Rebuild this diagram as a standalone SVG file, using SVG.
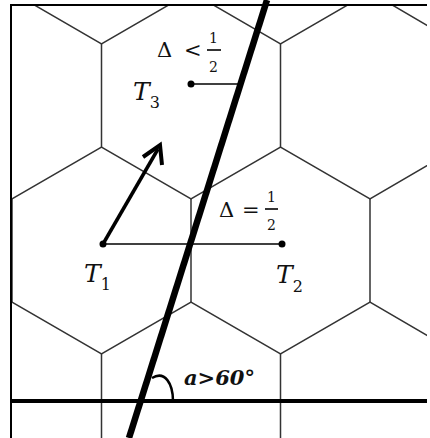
<svg xmlns="http://www.w3.org/2000/svg" width="430" height="438" viewBox="0 0 430 438">
<defs>
<style>
.hex{stroke:#333;stroke-width:1.5;fill:none}
.thin{stroke:#000;stroke-width:1.6;fill:none}
.mi{font-family:"DejaVu Serif",serif;font-style:italic;font-size:25px;fill:#111}
.sub{font-style:normal;font-size:16px}
.op{font-family:"DejaVu Serif",serif;font-size:21px;fill:#111}
.fr{font-family:"DejaVu Serif",serif;font-size:14px;fill:#111}
.ang{font-family:"DejaVu Serif",serif;font-style:italic;font-weight:bold;font-size:21px;fill:#111}
</style>
<clipPath id="frame"><rect x="11" y="5" width="416" height="433"/></clipPath>
</defs>
<rect width="430" height="438" fill="#fff"/>
<g id="grid" clip-path="url(#frame)" class="hex">
<path d="M101.5,44V147M280.5,44V147M12,199V302M191,199V302M370,199V302M101.5,354V457M280.5,354V457"/>
<path d="M12,-8L101.5,44L191,-8L280.5,44L370,-8L459,44"/>
<path d="M-77,147L12,199L101.5,147L191,199L280.5,147L370,199L459,147"/>
<path d="M-77,354L12,302L101.5,354L191,302L280.5,354L370,302L459,354"/>
</g>
<g id="frame-lines" fill="none" stroke="#000">
<path d="M11,438V5H427" stroke-width="2"/>
<path d="M12,401H427" stroke-width="4"/>
</g>
<g id="connectors">
<path class="thin" d="M103,244H282"/>
<path class="thin" d="M191,84H240"/>
<path d="M103,244L158,149" stroke="#000" stroke-width="3.5" fill="none"/>
<path d="M143,157L160,145L162,165" stroke="#000" stroke-width="4" fill="none" stroke-linejoin="miter"/>
<path d="M267,0L129,438" stroke="#000" stroke-width="6.5" fill="none"/>
<path d="M152,378C165,370 173,384 173,401" stroke="#000" stroke-width="2.5" fill="none"/>
</g>
<g id="T1">
<circle cx="103" cy="244" r="3.5"/>
<text class="mi" x="84" y="282">T<tspan class="sub" dy="8">1</tspan></text>
</g>
<g id="T2">
<circle cx="282" cy="244" r="3.5"/>
<text class="mi" x="276" y="283">T<tspan class="sub" dy="9">2</tspan></text>
</g>
<g id="T3">
<circle cx="191" cy="84" r="3.5"/>
<text class="mi" x="133" y="100">T<tspan class="sub" dy="8">3</tspan></text>
</g>
<g id="label-lt">
<text class="op" x="157" y="57">Δ</text>
<text class="op" x="184" y="57">&lt;</text>
<text class="fr" x="209" y="43">1</text>
<path class="thin" d="M207,50H221" stroke-width="1.3"/>
<text class="fr" x="209" y="72">2</text>
</g>
<g id="label-eq">
<text class="op" x="219" y="217">Δ</text>
<text class="op" x="242" y="217">=</text>
<text class="fr" x="267" y="202">1</text>
<path class="thin" d="M265,209H278" stroke-width="1.3"/>
<text class="fr" x="267" y="230">2</text>
</g>
<g id="label-angle">
<text class="ang" x="184" y="385">a&gt;60°</text>
</g>
</svg>
